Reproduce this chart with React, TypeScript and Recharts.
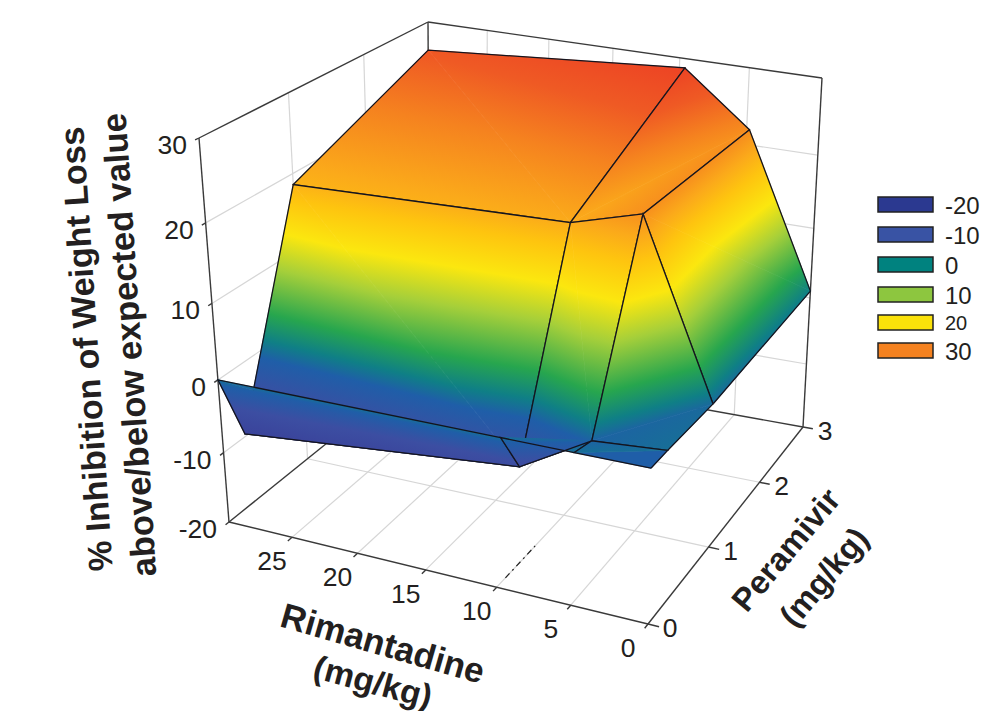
import { ScatterChart, Scatter, XAxis, YAxis } from "recharts";

const rimantadineLevels = [0, 4.8, 9.6, 30];
const peramivirLevels = [0, 0.25, 1, 3];
// one row per peramivir level, one column per rimantadine level
const inhibition = [
  [0, 0, 0, 0],
  [0, -0.7, -6, -9.6],
  [-0.3, 21.8, 19.4, 18.6],
  [1, 22, 28.8, 26.3],
];

const rimTicks = [0, 5, 10, 15, 20, 25];
const perTicks = [0, 1, 2, 3];
const zTicks = [-20, -10, 0, 10, 20, 30];

const legendValues = ["-20", "-10", "0", "10", "20", "30"];
const legendColors = ["#2b3990", "#3953a4", "#00827f", "#8dc63f", "#fbe20a", "#f58220"];
const legendTops = [197, 227, 257, 287, 315, 343];

const colorStops: [number, string][] = [
  [-20, "#2b3990"],
  [-10, "#3a429a"],
  [-5, "#3c4ea2"],
  [-1, "#1f5ea8"],
  [1, "#0f7f86"],
  [4, "#27a64e"],
  [9, "#a5cf3a"],
  [13, "#fbe70f"],
  [17, "#fec40f"],
  [19.5, "#fbaa1a"],
  [23, "#f5821f"],
  [26, "#ef5a24"],
  [30, "#ec3a24"],
  [40, "#e02020"],
];
const flatColor = "#1f5ea8";

const W = 985;
const H = 711;

// view: pixel position of the eight box corners, [rim end][per end][z end]
const corners = [
  [
    [[648, 624], [656, 203]],
    [[803, 427], [822, 78]],
  ],
  [
    [[229, 522], [199, 138]],
    [[430, 360], [428, 22]],
  ],
];

const warp = (t: number, k: number) => t / (t + k * (1 - t));
const mix = (a: number, b: number, t: number) => a + (b - a) * t;

function project(rim: number, per: number, z: number) {
  const u = warp(rim / 30, 0.885);
  const v = warp(per / 3, 0.78);
  const w = warp((z + 20) / 50, 1.135);
  const at = (i: number) =>
    mix(
      mix(mix(corners[0][0][0][i], corners[0][0][1][i], w), mix(corners[0][1][0][i], corners[0][1][1][i], w), v),
      mix(mix(corners[1][0][0][i], corners[1][0][1][i], w), mix(corners[1][1][0][i], corners[1][1][1][i], w), v),
      u
    );
  return { x: at(0), y: at(1) };
}

const noDot = () => <g />;

function segment(key: string, a: number[], b: number[], stroke: string, strokeWidth: number, dash?: string) {
  return (
    <Scatter
      key={key}
      data={[project(a[0], a[1], a[2]), project(b[0], b[1], b[2])]}
      line={{ stroke, strokeWidth, strokeDasharray: dash }}
      shape={noDot}
      isAnimationActive={false}
    />
  );
}

type Vert = { rim: number; per: number; z: number };

function triangle(key: string, verts: Vert[]) {
  const data = verts.map((v) => project(v.rim, v.per, v.z));
  const zs = verts.map((v) => v.z);
  const drawTri = (props: any) => {
    const [a, b, c] = props.points;
    const pts = props.points.map((p: any) => `${p.x},${p.y}`).join(" ");
    const det = (b.x - a.x) * (c.y - a.y) - (c.x - a.x) * (b.y - a.y);
    const gx = ((zs[1] - zs[0]) * (c.y - a.y) - (zs[2] - zs[0]) * (b.y - a.y)) / det;
    const gy = ((zs[2] - zs[0]) * (b.x - a.x) - (zs[1] - zs[0]) * (c.x - a.x)) / det;
    const g2 = gx * gx + gy * gy;
    // level triangle has no gradient direction
    if (!(g2 > 1e-9)) return <polygon points={pts} fill={flatColor} stroke={flatColor} strokeWidth={0.7} />;
    const lo = colorStops[0][0];
    const hi = colorStops[colorStops.length - 1][0];
    const id = `tri-${key}`;
    return (
      <g>
        <defs>
          <linearGradient
            id={id}
            gradientUnits="userSpaceOnUse"
            x1={a.x + ((lo - zs[0]) * gx) / g2}
            y1={a.y + ((lo - zs[0]) * gy) / g2}
            x2={a.x + ((hi - zs[0]) * gx) / g2}
            y2={a.y + ((hi - zs[0]) * gy) / g2}
          >
            {colorStops.map(([z, color]) => (
              <stop key={z} offset={(z - lo) / (hi - lo)} stopColor={color} />
            ))}
          </linearGradient>
        </defs>
        <polygon points={pts} fill={`url(#${id})`} stroke={`url(#${id})`} strokeWidth={0.7} />
      </g>
    );
  };
  return <Scatter key={key} data={data} line={drawTri} shape={noDot} isAnimationActive={false} />;
}

function patch(row: number, col: number) {
  const v = (r: number, c: number): Vert => ({
    rim: rimantadineLevels[c],
    per: peramivirLevels[r],
    z: inhibition[r][c],
  });
  const a = v(row, col);
  const b = v(row, col + 1);
  const c = v(row + 1, col + 1);
  const d = v(row + 1, col);
  // split along the diagonal whose ends are closest in height
  const tris = Math.abs(a.z - c.z) <= Math.abs(b.z - d.z) ? [[a, b, c], [a, c, d]] : [[a, b, d], [b, c, d]];
  const outline = [a, b, c, d, a].map((p) => project(p.rim, p.per, p.z));
  return [
    triangle(`${row}-${col}-a`, tris[0]),
    triangle(`${row}-${col}-b`, tris[1]),
    <Scatter
      key={`${row}-${col}-edge`}
      data={outline}
      line={{ stroke: "#14141e", strokeWidth: 1.3 }}
      shape={noDot}
      isAnimationActive={false}
    />,
  ];
}

const textShape = (props: any) => {
  const d = props.payload ?? props;
  return (
    <text
      x={props.cx}
      y={props.cy}
      textAnchor={d.anchor ?? "middle"}
      dominantBaseline="central"
      fontFamily="Liberation Sans, Arial, sans-serif"
      fontSize={d.size}
      fontWeight={d.bold ? 700 : 400}
      fill="#231f20"
      transform={d.angle ? `rotate(${d.angle} ${props.cx} ${props.cy})` : undefined}
    >
      {d.label}
    </text>
  );
};

const rimLabels = rimTicks.map((t) => {
  const p = project(t, 0, -20);
  return { x: p.x - 20, y: p.y + 24, label: String(t), size: 26.5 };
});
const perLabels = perTicks.map((t) => {
  const p = project(0, t, -20);
  return { x: p.x + 22, y: p.y + 4, label: String(t), size: 26.5 };
});
const zLabels = zTicks.map((t) => {
  const p = project(30, 0, t);
  return { x: p.x - 12, y: p.y + 7, label: String(t), size: 26.5, anchor: "end" };
});
const titles = [
  { x: 86, y: 349, label: "% Inhibition of Weight Loss", size: 34, bold: true, angle: -93.8 },
  { x: 129, y: 345, label: "above/below expected value", size: 34.5, bold: true, angle: -93.8 },
  { x: 383, y: 643, label: "Rimantadine", size: 35, bold: true, angle: 16 },
  { x: 373, y: 682, label: "(mg/kg)", size: 33.5, bold: true, angle: 15 },
  { x: 786, y: 550, label: "Peramivir", size: 32.5, bold: true, angle: -50 },
  { x: 824, y: 577, label: "(mg/kg)", size: 32.5, bold: true, angle: -50 },
];

const legendPoints = legendValues.map((label, i) => ({
  x: 878,
  y: legendTops[i],
  label,
  color: legendColors[i],
}));

const legendShape = (props: any) => {
  const d = props.payload ?? props;
  return (
    <g>
      <rect x={props.cx} y={props.cy} width={55} height={15} fill={d.color} stroke="#222" strokeWidth={1.5} />
      <text
        x={props.cx + 67}
        y={props.cy + 8}
        dominantBaseline="central"
        fontFamily="Liberation Sans, Arial, sans-serif"
        fontSize={d.label === "20" ? 20 : 24}
        fill="#231f20"
      >
        {d.label}
      </text>
    </g>
  );
};

const gray = "#d6d6d6";
const dark = "#3a3a3a";

export default function App() {
  const walls = [
    ...[5, 10, 15, 20, 25].flatMap((r) => [
      segment(`rim-floor-${r}`, [r, 0, -20], [r, 3, -20], gray, 1.2),
      segment(`rim-back-${r}`, [r, 3, -20], [r, 3, 30], gray, 1.2),
    ]),
    ...[1, 2].flatMap((p) => [
      segment(`per-floor-${p}`, [0, p, -20], [30, p, -20], gray, 1.2),
      segment(`per-side-${p}`, [30, p, -20], [30, p, 30], gray, 1.2),
    ]),
    ...[-10, 0, 10, 20].flatMap((z) => [
      segment(`z-side-${z}`, [30, 0, z], [30, 3, z], gray, 1.2),
      segment(`z-back-${z}`, [30, 3, z], [0, 3, z], gray, 1.2),
    ]),
    segment("box-1", [30, 0, 30], [30, 3, 30], dark, 1.4),
    segment("box-2", [30, 3, 30], [0, 3, 30], dark, 1.4),
    segment("box-3", [30, 3, -20], [30, 3, 30], dark, 1.4),
    segment("box-4", [0, 3, -20], [0, 3, 30], dark, 1.4),
    segment("box-5", [30, 0, -20], [30, 0, 30], dark, 1.4),
    segment("box-6", [30, 0, -20], [0, 0, -20], dark, 1.4),
    segment("box-7", [0, 0, -20], [0, 3, -20], dark, 1.4),
    segment("box-8", [30, 0, -20], [30, 3, -20], dark, 1.4),
    segment("box-9", [0, 3, -20], [30, 3, -20], dark, 1.4),
    segment("dash-10", [10, 0.12, -20], [10, 0.55, -20], "#222", 1.2, "6 4 2 4"),
  ];

  const ticks = [
    ...rimTicks.map((t) => segment(`rim-tick-${t}`, [t, 0, -20], [t, -0.05, -20], dark, 1.4)),
    ...perTicks.map((t) => segment(`per-tick-${t}`, [0, t, -20], [-0.7, t, -20], dark, 1.4)),
    ...zTicks.map((t) => segment(`z-tick-${t}`, [30, 0, t], [30, -0.04, t], dark, 1.4)),
  ];

  // painter's order, back rows first
  const surface = [2, 1, 0].flatMap((row) => [2, 1, 0].flatMap((col) => patch(row, col)));

  return (
    <div style={{ position: "absolute", left: 0, top: 0, width: W, height: H, background: "#fff" }}>
      <ScatterChart width={W} height={H} margin={{ top: 0, right: 0, bottom: 0, left: 0 }}>
        <XAxis type="number" dataKey="x" domain={[0, W]} allowDataOverflow hide />
        <YAxis type="number" dataKey="y" domain={[0, H]} reversed allowDataOverflow hide />
        {walls}
        {ticks}
        {surface}
        <Scatter data={rimLabels} shape={textShape} isAnimationActive={false} />
        <Scatter data={perLabels} shape={textShape} isAnimationActive={false} />
        <Scatter data={zLabels} shape={textShape} isAnimationActive={false} />
        <Scatter data={titles} shape={textShape} isAnimationActive={false} />
        <Scatter data={legendPoints} shape={legendShape} isAnimationActive={false} />
      </ScatterChart>
    </div>
  );
}
